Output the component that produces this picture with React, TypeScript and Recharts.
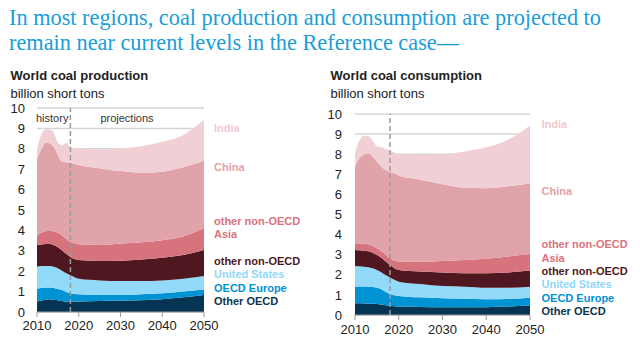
import React from "react";
import { AreaChart, Area, XAxis, YAxis, CartesianGrid, ReferenceLine } from "recharts";

const years = [2010, 2011, 2012, 2013, 2014, 2015, 2016, 2017, 2018, 2020, 2025, 2030, 2035, 2040, 2045, 2050];
const xTicks = [2010, 2020, 2030, 2040, 2050];
const yTicks = [0, 1, 2, 3, 4, 5, 6, 7, 8, 9, 10];

const seriesKeys = ["otherOECD", "oecdEurope", "us", "otherNonOECD", "otherNonOECDAsia", "china", "india"];
const seriesColors = ["#063553", "#0093D3", "#93DAFA", "#4F1820", "#D6737D", "#E1A3AA", "#F1D0D5"];

// Production (billion short tons), per region
const prodOtherOECD = [0.52, 0.56, 0.6, 0.62, 0.6, 0.58, 0.54, 0.5, 0.5, 0.52, 0.54, 0.56, 0.58, 0.62, 0.72, 0.83];
const prodOECDEurope = [0.63, 0.62, 0.6, 0.58, 0.58, 0.55, 0.54, 0.48, 0.42, 0.35, 0.3, 0.28, 0.29, 0.3, 0.28, 0.27];
const prodUS = [1.07, 1.07, 1.06, 1.05, 1.04, 1.02, 0.94, 0.92, 0.88, 0.76, 0.71, 0.68, 0.65, 0.63, 0.63, 0.66];
const prodOtherNonOECD = [1.06, 1.06, 1.07, 1.08, 1.06, 1.03, 1.0, 0.95, 0.9, 0.92, 0.95, 0.99, 1.05, 1.11, 1.17, 1.28];
const prodOtherNonOECDAsia = [0.46, 0.57, 0.63, 0.64, 0.67, 0.7, 0.73, 0.73, 0.74, 0.77, 0.79, 0.85, 0.85, 0.86, 0.9, 1.06];
const prodChina = [3.79, 4.08, 4.33, 4.3, 4.15, 3.82, 3.61, 3.76, 3.88, 3.88, 3.75, 3.55, 3.41, 3.36, 3.4, 3.32];
const prodIndia = [0.47, 0.72, 0.67, 0.67, 0.7, 0.6, 0.82, 0.96, 0.78, 0.8, 0.92, 1.11, 1.3, 1.47, 1.57, 2.0];

// Consumption (billion short tons), per region
const consOtherOECD = [0.58, 0.58, 0.57, 0.56, 0.56, 0.55, 0.52, 0.49, 0.46, 0.42, 0.4, 0.38, 0.38, 0.39, 0.42, 0.47];
const consOECDEurope = [0.83, 0.84, 0.85, 0.85, 0.83, 0.8, 0.76, 0.67, 0.59, 0.53, 0.48, 0.45, 0.43, 0.39, 0.38, 0.39];
const consUS = [1.03, 1.0, 0.98, 0.96, 0.93, 0.89, 0.85, 0.83, 0.81, 0.71, 0.66, 0.61, 0.6, 0.58, 0.56, 0.55];
const consOtherNonOECD = [0.8, 0.8, 0.8, 0.8, 0.78, 0.75, 0.72, 0.67, 0.63, 0.58, 0.62, 0.67, 0.67, 0.72, 0.76, 0.8];
const consOtherNonOECDAsia = [0.33, 0.34, 0.34, 0.35, 0.34, 0.33, 0.33, 0.33, 0.33, 0.42, 0.5, 0.58, 0.66, 0.72, 0.79, 0.83];
const consChina = [3.82, 4.24, 4.43, 4.53, 4.46, 4.32, 4.21, 4.23, 4.32, 4.28, 4.07, 3.82, 3.6, 3.51, 3.49, 3.52];
const consIndia = [0.67, 0.87, 0.95, 0.85, 0.8, 0.75, 0.95, 1.04, 1.05, 1.08, 1.24, 1.49, 1.8, 2.03, 2.32, 2.87];

const legendLines = ["India", "China", "other non-OECD", "Asia", "other non-OECD", "United States", "OECD Europe", "Other OECD"];
const legendColors = ["#F0C9CF", "#E5A2AA", "#D9737D", "#D9737D", "#4F1820", "#8FD8FA", "#0091D1", "#0B3552"];

function buildRows(cols: number[][]) {
  return years.map((year, i) => {
    const row: Record<string, number> = { year };
    seriesKeys.forEach((k, j) => {
      row[k] = cols[j][i];
    });
    return row;
  });
}

const prodRows = buildRows([prodOtherOECD, prodOECDEurope, prodUS, prodOtherNonOECD, prodOtherNonOECDAsia, prodChina, prodIndia]);
const consRows = buildRows([consOtherOECD, consOECDEurope, consUS, consOtherNonOECD, consOtherNonOECDAsia, consChina, consIndia]);

const FONT = "'Liberation Sans', Arial, sans-serif";

function Panel(props: {
  rows: Record<string, number>[];
  margin: { top: number; right: number; left: number; bottom: number };
  yWidth: number;
  yTickMargin: number;
  xTickMargin: number;
}) {
  return (
    <AreaChart width={320} height={240} data={props.rows} margin={props.margin}>
      <CartesianGrid vertical={false} stroke="#D4D4D4" strokeWidth={1.5} />
      <XAxis
        dataKey="year"
        type="number"
        domain={[2010, 2050]}
        ticks={xTicks}
        height={20}
        stroke="#9A9A9A"
        tickSize={5}
        tickMargin={props.xTickMargin}
        tick={{ fill: "#222", fontSize: 13 }}
      />
      <YAxis
        domain={[0, 10]}
        ticks={yTicks}
        width={props.yWidth}
        axisLine={false}
        tickLine={false}
        tickSize={0}
        tickMargin={props.yTickMargin}
        interval={0}
        tick={{ fill: "#222", fontSize: 13 }}
      />
      {seriesKeys.map((k, i) => (
        <Area
          key={k}
          dataKey={k}
          stackId="a"
          type="monotone"
          stroke="none"
          fill={seriesColors[i]}
          fillOpacity={1}
          isAnimationActive={false}
          dot={false}
          activeDot={false}
        />
      ))}
      <ReferenceLine x={2018} stroke="#9A9A9A" strokeWidth={1.5} strokeDasharray="5 3" />
    </AreaChart>
  );
}

const leftLabelY = [127.7, 167, 220.7, 233.7, 260.7, 274, 287.7, 300.7];
const rightLabelY = [124, 191, 244, 257.7, 271, 284, 297.7, 311];

export default function App() {
  return (
    <div style={{ position: "absolute", left: 0, top: 0, width: 640, height: 351, background: "#fff", fontFamily: FONT, overflow: "hidden" }}>
      <div style={{ position: "absolute", left: 0, top: 100 }}>
        <Panel rows={prodRows} margin={{ top: 8, right: 116, left: 0, bottom: 8 }} yWidth={37} yTickMargin={12} xTickMargin={4} />
      </div>
      <div style={{ position: "absolute", left: 320, top: 100 }}>
        <Panel rows={consRows} margin={{ top: 14, right: 110, left: 0, bottom: 5 }} yWidth={35} yTickMargin={13} xTickMargin={5} />
      </div>
      <svg width={640} height={351} style={{ position: "absolute", left: 0, top: 0, pointerEvents: "none" }}>
        <text x={9} y={25} fontFamily="'Liberation Serif', 'Times New Roman', serif" fontSize={22.3} fill="#1A9ED9">
          In most regions, coal production and consumption  are projected to
        </text>
        <text x={9} y={50} fontFamily="'Liberation Serif', 'Times New Roman', serif" fontSize={22.3} fill="#1A9ED9">
          remain near current levels in the Reference case—
        </text>
        <text x={10.5} y={75} dominantBaseline="central" fontSize={13} fontWeight="bold" fill="#222">World coal production</text>
        <text x={10.5} y={93.5} dominantBaseline="central" fontSize={13} fill="#222">billion short tons</text>
        <text x={330.5} y={75} dominantBaseline="central" fontSize={13} fontWeight="bold" fill="#222">World coal consumption</text>
        <text x={330.5} y={93.5} dominantBaseline="central" fontSize={13} fill="#222">billion short tons</text>
        <text x={36} y={118.3} dominantBaseline="central" fontSize={11} fill="#333">history</text>
        <text x={127} y={118.3} dominantBaseline="central" textAnchor="middle" fontSize={11} fill="#333">projections</text>
        {legendLines.map((t, i) => (
          <text key={"l" + i} x={214} y={leftLabelY[i]} dominantBaseline="central" fontSize={11} fontWeight="bold" fill={legendColors[i]}>
            {t}
          </text>
        ))}
        {legendLines.map((t, i) => (
          <text key={"r" + i} x={541.5} y={rightLabelY[i]} dominantBaseline="central" fontSize={11} fontWeight="bold" fill={legendColors[i]}>
            {t}
          </text>
        ))}
      </svg>
    </div>
  );
}
